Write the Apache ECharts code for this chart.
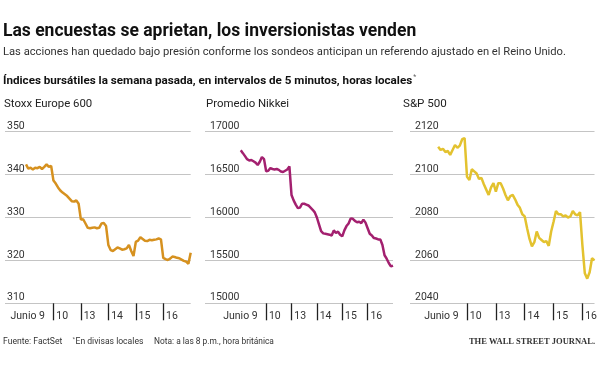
<!DOCTYPE html>
<html><head><meta charset="utf-8">
<script src="https://cdn.jsdelivr.net/npm/echarts@6/dist/echarts.min.js"></script>
<style>html,body{margin:0;padding:0;background:#fff}#c{width:600px;height:370px}</style>
</head><body><div id="c"></div>
<script>
// ---- data (5-minute samples, 12 per trading day) ----
const dayLabels = ['10', '13', '14', '15', '16'];
const firstDayLabel = 'Junio 9';
const samplesPerDay = 12;

const stoxxTicks = [310, 320, 330, 340, 350];
const stoxx = [
  342.4, 341.4, 341.6, 341.2, 341.6, 341.5, 341.8, 341.3, 341.8, 342.4, 341.8, 342.0,
  338.6, 337.9, 337.0, 336.3, 335.8, 335.4, 335.0, 334.4, 333.8, 333.7, 334.0, 333.2,
  329.5, 329.6, 328.6, 327.6, 327.5, 327.6, 327.7, 327.5, 327.6, 328.6, 328.7, 328.0,
  323.6, 322.4, 322.2, 322.6, 323.0, 322.8, 322.5, 322.6, 322.8, 323.6, 322.2, 321.0,
  324.3, 324.6, 325.4, 325.0, 324.6, 324.5, 324.8, 324.7, 324.8, 324.9, 325.1, 324.9,
  320.6, 320.3, 320.1, 320.4, 320.9, 320.8, 320.6, 320.5, 320.2, 319.9, 319.7, 319.2, 321.8
];

const nikkeiTicks = [15000, 15500, 16000, 16500, 17000];
const nikkei = [
  16783, 16750, 16715, 16680, 16665, 16670, 16655, 16640, 16612, 16650, 16705, 16680,
  16540, 16545, 16575, 16565, 16560, 16565, 16555, 16535, 16530, 16545, 16560, 16595,
  16262, 16200, 16150, 16110, 16115, 16160, 16160, 16150, 16140, 16115, 16090, 16060,
  16000, 15920, 15840, 15815, 15810, 15805, 15800, 15790, 15850, 15820, 15835, 15800,
  15780, 15850, 15900, 15930, 15990, 15985, 15960, 15945, 15950, 15935, 15975, 15940,
  15875, 15810, 15790, 15760, 15755, 15745, 15745, 15680, 15560, 15520, 15470, 15430, 15440
];

const spTicks = [2040, 2060, 2080, 2100, 2120];
const sp500 = [
  2113.0, 2111.5, 2112.0, 2110.5, 2111.0, 2109.2, 2111.5, 2113.8, 2112.5, 2113.5, 2116.5, 2117.0,
  2099.0, 2097.5, 2102.5, 2101.5, 2100.5, 2098.0, 2098.5, 2095.5, 2093.0, 2090.5, 2094.0, 2096.0,
  2092.0, 2096.0, 2096.0, 2093.5, 2090.5, 2088.0, 2090.0, 2090.5, 2088.5, 2086.0, 2084.5, 2081.5,
  2080.5, 2075.0, 2070.0, 2066.5, 2068.5, 2073.5, 2070.5, 2069.5, 2068.5, 2069.0, 2066.8, 2073.5,
  2078.0, 2083.0, 2081.5, 2081.5, 2080.5, 2081.0, 2080.0, 2080.5, 2083.0, 2081.5, 2081.0, 2082.5,
  2067.0, 2054.0, 2051.5, 2054.5, 2061.0, 2060.0
];

const panelTitles = ['Stoxx Europe 600', 'Promedio Nikkei', 'S&P 500'];
const titleText = 'Las encuestas se aprietan, los inversionistas venden';
const subtitleText = 'Las acciones han quedado bajo presión conforme los sondeos anticipan un referendo ajustado en el Reino Unido.';
const sectionText = 'Índices bursátiles la semana pasada, en intervalos de 5 minutos, horas locales';
const footerTexts = ['Fuente: FactSet', 'En divisas locales', 'Nota: a las 8 p.m., hora británica'];
const brandText = 'THE WALL STREET JOURNAL.';

// ---- chart ----
const FONT = "Roboto, 'Liberation Sans', sans-serif";
const toPts = arr => arr.map((v, i) => [i / samplesPerDay, v]);
const tickDays = [1, 2, 3, 4, 5];

const panels = [
  {left: 5, width: 185.7, xmin: -0.765, xmax: 6, ticks: stoxxTicks, data: stoxx, color: '#D6911F', lblMargin: 2},
  {left: 205, width: 188, xmin: -1.41, xmax: 6, ticks: nikkeiTicks, data: nikkei, color: '#A3206F', lblMargin: 5},
  {left: 410, width: 185.5, xmin: -0.976, xmax: 5.42, ticks: spTicks, data: sp500, color: '#E3C22F', lblMargin: 5}
];

const labelStyle = {fontSize: 10.5, fontFamily: FONT, color: '#333'};
const grid = [], xAxis = [], yAxis = [], series = [];
panels.forEach((p, k) => {
  const t = p.ticks;
  const dayPx = p.width / (p.xmax - p.xmin);
  const after = 2.8 / dayPx, before = 8.5 / dayPx;
  grid.push({left: p.left, top: 131.7, width: p.width, height: 171.6, containLabel: false});
  xAxis.push({
    type: 'value', gridIndex: k, min: p.xmin, max: p.xmax, position: 'bottom', offset: 0,
    axisLine: {show: false}, splitLine: {show: false},
    axisTick: {show: true, customValues: tickDays, length: 17, lineStyle: {color: '#222', width: 1.3}},
    axisLabel: Object.assign({
      show: true, customValues: tickDays.map(d => d + after), margin: 8, align: 'left',
      showMinLabel: true, showMaxLabel: true, hideOverlap: false,
      formatter: v => dayLabels[Math.round(v - after) - 1]
    }, labelStyle)
  });
  xAxis.push({
    type: 'value', gridIndex: k, min: p.xmin, max: p.xmax, position: 'bottom', offset: 0,
    axisLine: {show: false}, splitLine: {show: false}, axisTick: {show: false},
    axisLabel: Object.assign({
      show: true, customValues: [1 - before], margin: 8, align: 'right',
      showMinLabel: true, showMaxLabel: true, hideOverlap: false,
      formatter: () => firstDayLabel
    }, labelStyle)
  });
  yAxis.push({
    type: 'value', gridIndex: k, min: t[0], max: t[t.length - 1], interval: t[1] - t[0],
    axisLine: {show: false}, axisTick: {show: false},
    splitLine: {show: true, lineStyle: {color: '#c4c4c4', width: 1}},
    axisLabel: {inside: true, margin: p.lblMargin, verticalAlign: 'bottom', align: 'left',
      showMinLabel: true, showMaxLabel: true,
      formatter: v => String(v), fontSize: 10.5, fontFamily: FONT, color: '#333'}
  });
  series.push({
    type: 'line', xAxisIndex: 2 * k, yAxisIndex: k, data: toPts(p.data), showSymbol: false,
    lineStyle: {color: p.color, width: 2.5}, itemStyle: {color: p.color}, animation: false
  });
});

const T = (text, x, y, size, weight, color, family, align) => ({
  type: 'text', x: x, y: y,
  style: {text: text, fontSize: size, fontWeight: weight || 'normal', fill: color || '#222',
    fontFamily: family || FONT, textAlign: align || 'left', textVerticalAlign: 'middle'}
});
const textWidth = (text, size, weight) =>
  new echarts.graphic.Text({style: {text: text, fontSize: size, fontWeight: weight, fontFamily: FONT}})
    .getBoundingRect().width;

const secSize = 11.65;
const secW = textWidth(sectionText, secSize, 'bold');

const graphic = [
  T(titleText, 3, 31.4, 17.5, 'bold', '#111'),
  T(subtitleText, 3, 51.8, 11.2, 'normal', '#333'),
  T(sectionText, 3, 80.6, secSize, 'bold', '#111'),
  T('*', 3 + secW + 1, 77.5, 7, 'normal', '#666'),
  T(panelTitles[0], 4, 104.3, 11.4, 'normal', '#222'),
  T(panelTitles[1], 206, 104.3, 11.4, 'normal', '#222'),
  T(panelTitles[2], 403, 104.3, 11.6, 'normal', '#222'),
  T(footerTexts[0], 3, 341.5, 8.6, 'normal', '#333'),
  T('*', 72.5, 339.5, 6, 'normal', '#555'),
  T(footerTexts[1], 75.5, 341.5, 8.6, 'normal', '#333'),
  T(footerTexts[2], 154, 341.5, 8.4, 'normal', '#333'),
  T(brandText, 595, 342, 8.5, 'bold', '#333', "'Liberation Serif', 'DejaVu Serif', serif", 'right')
];

const chart = echarts.init(document.getElementById('c'), null, {renderer: 'canvas'});
chart.setOption({animation: false, backgroundColor: '#fff', grid, xAxis, yAxis, series, graphic});
</script></body></html>
